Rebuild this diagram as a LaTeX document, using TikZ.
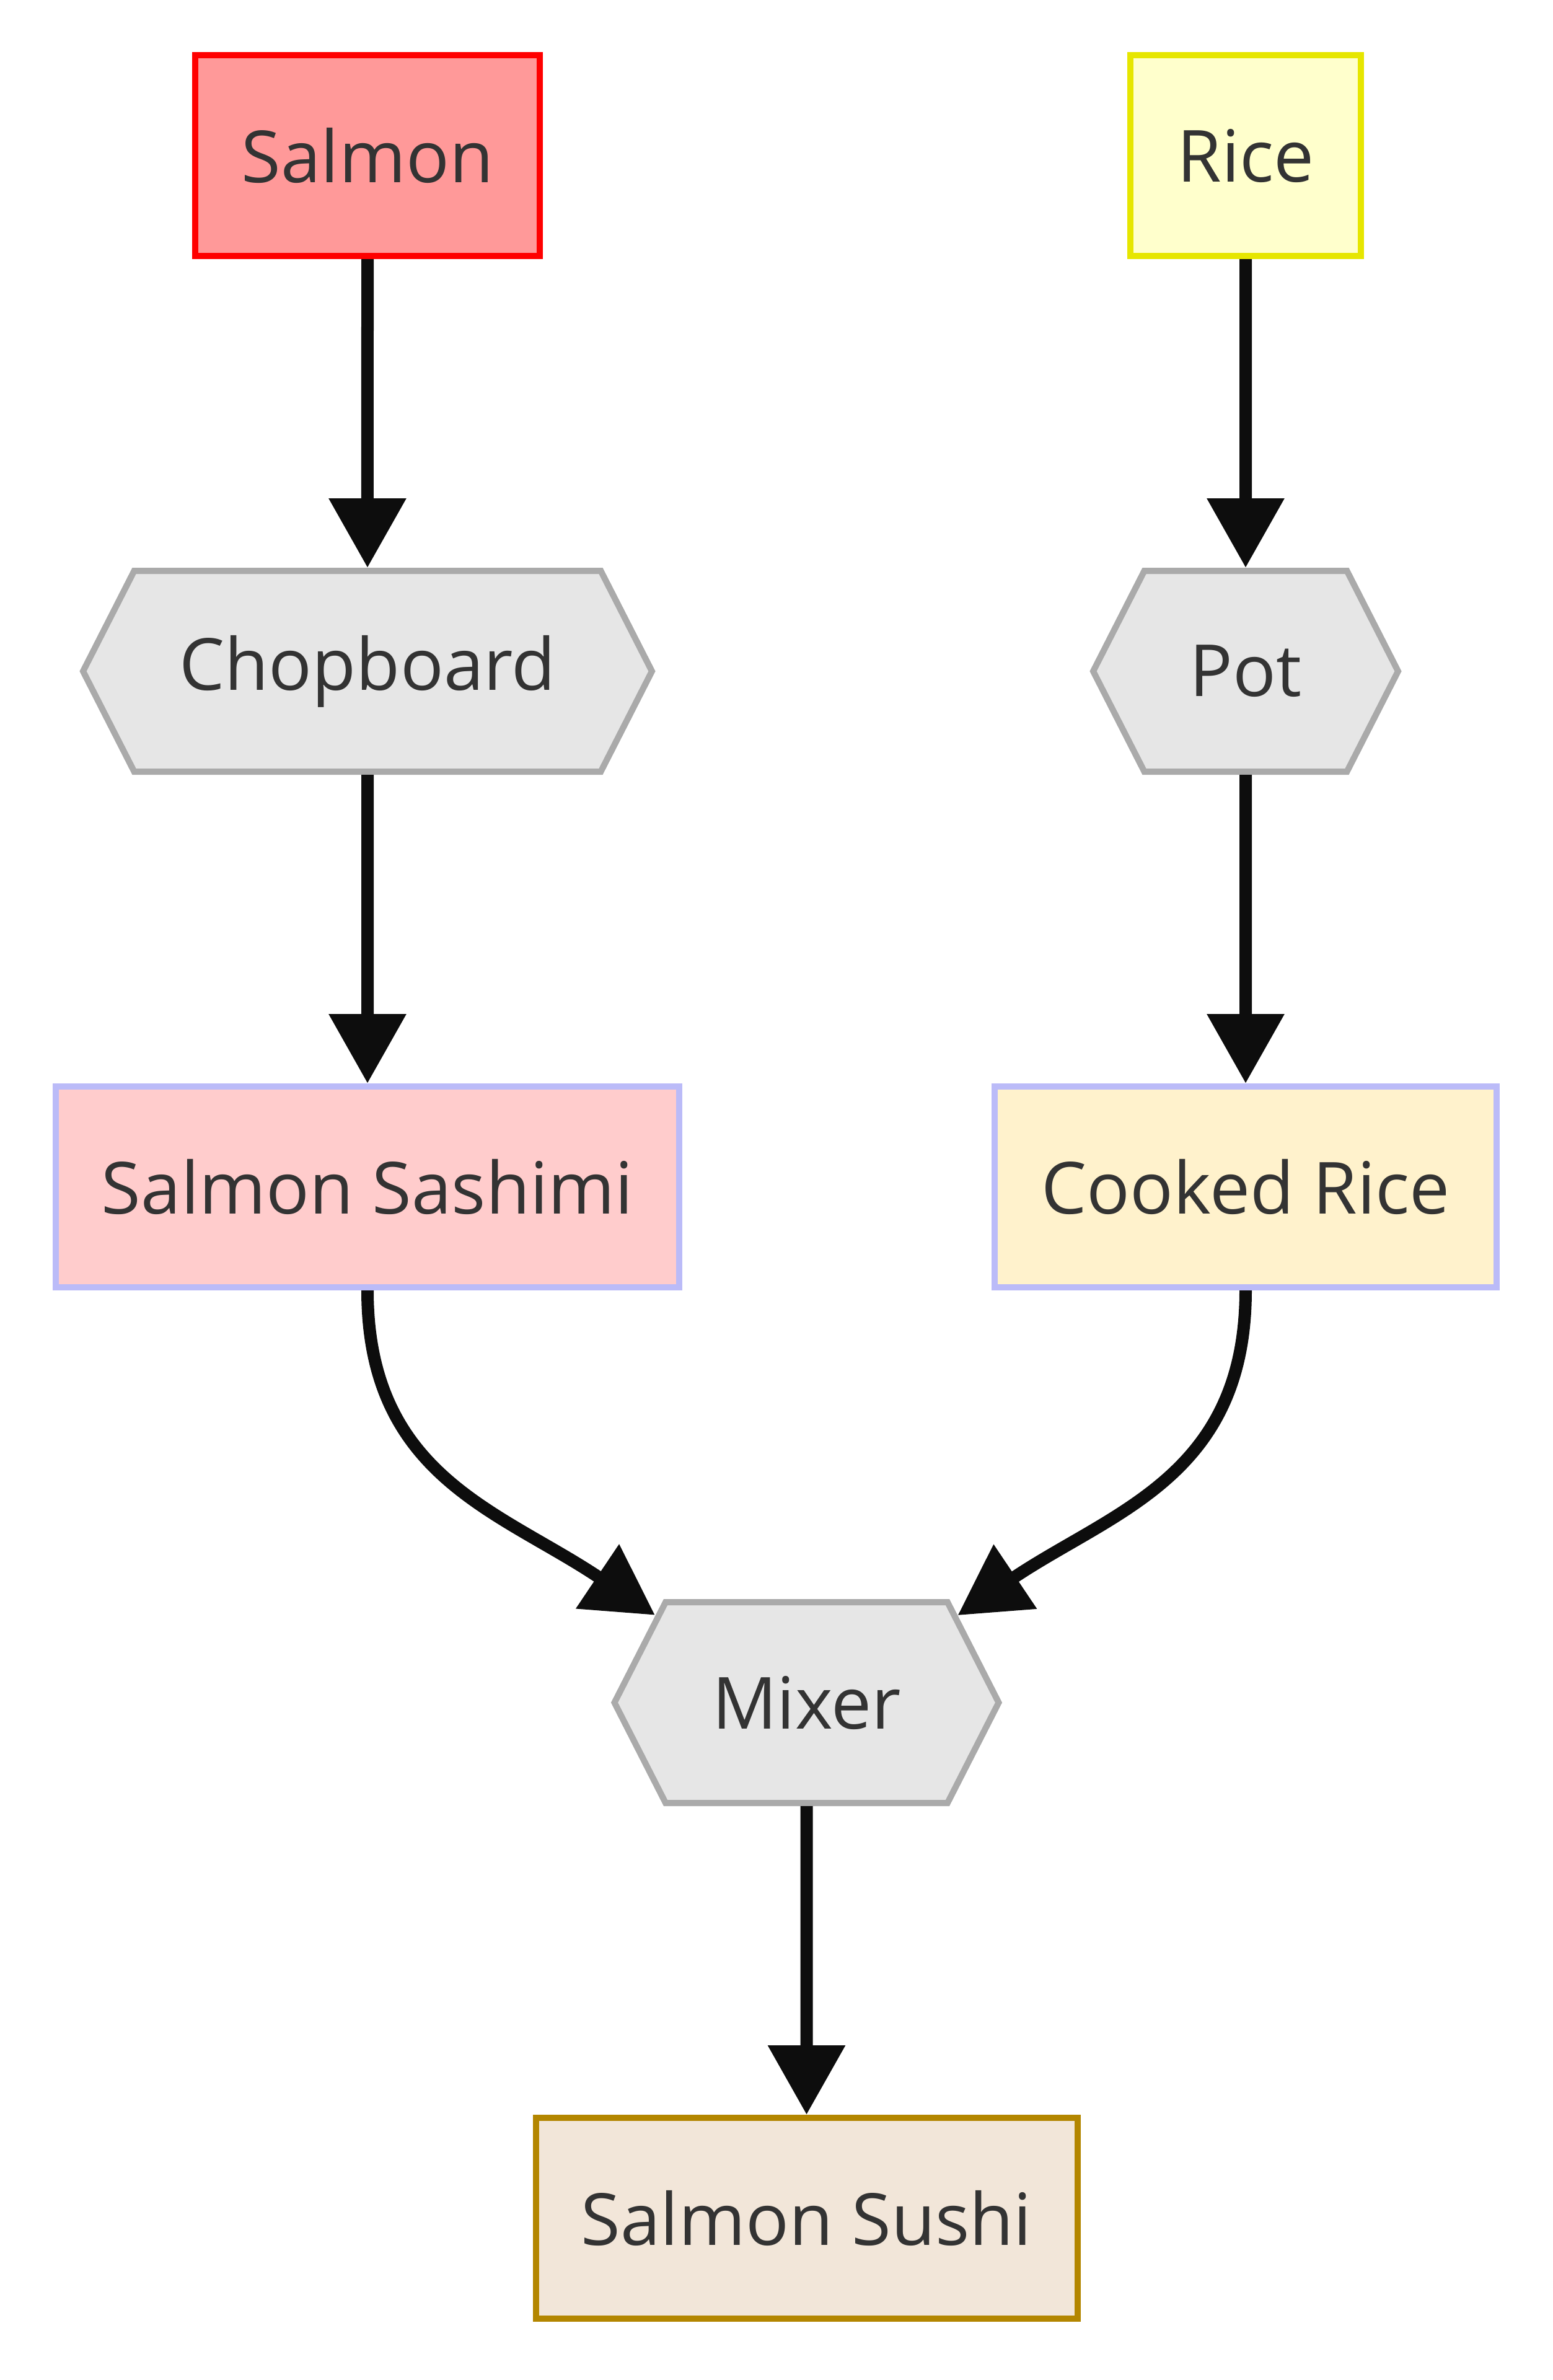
\documentclass[tikz,border=0pt]{standalone}
\usepackage{fontspec}
\setmainfont{Open Sans}
\usepackage{tikz}
\usetikzlibrary{arrows.meta,calc,positioning,shapes.symbols}
\definecolor{Ink}{HTML}{333333}
\definecolor{Arrow}{HTML}{0D0D0D}
\definecolor{SalmonFill}{HTML}{FF9999}
\definecolor{SalmonLine}{HTML}{FF0000}
\definecolor{RiceFill}{HTML}{FFFFCC}
\definecolor{RiceLine}{HTML}{E6E600}
\definecolor{HexFill}{HTML}{E6E6E6}
\definecolor{HexLine}{HTML}{AAAAAA}
\definecolor{Lavender}{HTML}{BBBBF8}
\definecolor{SashimiFill}{HTML}{FFCCCC}
\definecolor{CookedFill}{HTML}{FFF2CC}
\definecolor{SushiFill}{HTML}{F2E6D9}
\definecolor{SushiLine}{HTML}{B38600}

\begin{document}
\begin{tikzpicture}[x=1pt,y=1pt,node distance=249pt,
    box/.style={draw,line width=5pt,minimum height=162pt,text=Ink,
                font=\fontsize{58}{70}\selectfont},
    hexa/.style={signal,signal to=east and west,signal pointer angle=126,
                 draw=HexLine,fill=HexFill,line width=5pt,minimum height=162pt,
                 text=Ink,font=\fontsize{58}{70}\selectfont},
    arr/.style={-{Triangle[length=56pt,width=60pt]},line width=10pt,Arrow}]
    \useasboundingbox (0,0) rectangle (1253,-1920);
    \node[box,fill=SalmonFill,draw=SalmonLine,minimum width=278pt] (salmon) at (296.5,-125.5) {Salmon};
    \node[box,fill=RiceFill,draw=RiceLine,minimum width=186pt] (rice) at (1005,-125.5) {Rice};
    \node[hexa,below=of salmon,minimum width=459pt] (chop) {Chopboard};
    \node[hexa,below=of rice,minimum width=246pt] (pot) {Pot};
    \node[box,below=of chop,fill=SashimiFill,draw=Lavender,minimum width=503pt] (sashimi) {Salmon Sashimi};
    \node[box,below=of pot,fill=CookedFill,draw=Lavender,minimum width=405pt] (cooked) {Cooked Rice};
    \coordinate (mid) at ($(sashimi.south)!.5!(cooked.south)$);
    \node[hexa,below=of mid,minimum width=310pt] (mix) {Mixer};
    \node[box,below=of mix,fill=SushiFill,draw=SushiLine,minimum width=437pt] (sushi) {Salmon Sushi};
    \draw[arr] (salmon)--(chop);
    \draw[arr] (rice)--(pot);
    \draw[arr] (chop)--(sashimi);
    \draw[arr] (pot)--(cooked);
    \draw[arr] (sashimi.south) .. controls +(0,-150) and +(-125,84) .. (mix.150);
    \draw[arr] (cooked.south) .. controls +(0,-150) and +(125,84) .. (mix.30);
    \draw[arr] (mix)--(sushi);
\end{tikzpicture}
\end{document}
